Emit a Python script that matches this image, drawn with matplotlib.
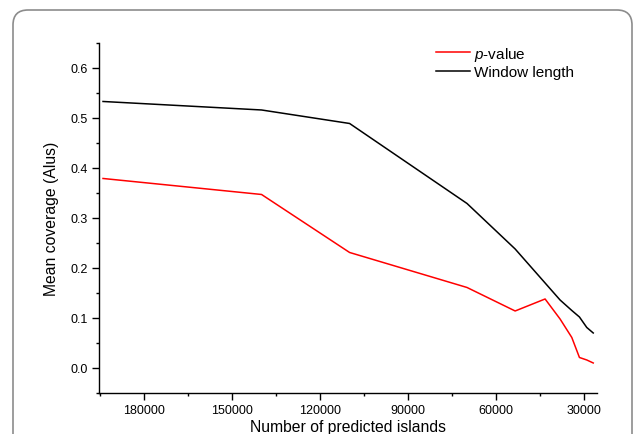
import numpy as np
import matplotlib
matplotlib.use('Agg')
import matplotlib.pyplot as plt
from matplotlib.patches import FancyBboxPatch
from matplotlib.transforms import IdentityTransform
from matplotlib.ticker import MultipleLocator

plt.rcParams['font.family'] = ['Liberation Sans', 'DejaVu Sans']
plt.rcParams['mathtext.fontset'] = 'custom'
plt.rcParams['mathtext.it'] = 'Liberation Sans:italic'
plt.rcParams['mathtext.rm'] = 'Liberation Sans'

# numero de ilhas previstas (eixo x invertido)
islands = [194000, 140000, 110000, 70000, 53600, 43400, 38300, 34300, 31700, 29200, 27000]
pvalue = [0.379, 0.347, 0.231, 0.161, 0.114, 0.138, 0.098, 0.061, 0.021, 0.016, 0.010]
window = [0.533, 0.516, 0.489, 0.329, 0.238, 0.170, 0.136, 0.115, 0.102, 0.081, 0.070]

fig = plt.figure(figsize=(6.33, 4.35), dpi=100)
ax = fig.add_axes([0.1558, 0.0943, 0.7867, 0.8046])

ax.plot(islands, pvalue, color='#ff0000', lw=1.1, label='$p$-value')
ax.plot(islands, window, color='black', lw=1.1, label='Window length')

ax.set_xlim(195500, 25850)
ax.set_ylim(-0.05, 0.65)
ax.xaxis.set_major_locator(MultipleLocator(30000))
ax.xaxis.set_minor_locator(MultipleLocator(15000))
ax.yaxis.set_major_locator(MultipleLocator(0.1))
ax.yaxis.set_minor_locator(MultipleLocator(0.05))
ax.yaxis.set_major_formatter(plt.FuncFormatter(lambda v, p: '%.1f' % v))

for s in ['top', 'right']:
    ax.spines[s].set_visible(False)
for s in ['left', 'bottom']:
    ax.spines[s].set_linewidth(1.0)
ax.tick_params(which='major', direction='out', length=4.8, width=1.0, labelsize=9, pad=3)
ax.tick_params(which='minor', direction='out', length=2.4, width=1.0)

ax.set_xlabel('Number of predicted islands', fontsize=11.3, labelpad=2)
ax.set_ylabel('Mean coverage (Alus)', fontsize=11.3, labelpad=8)

ax.legend(loc='upper left', bbox_to_anchor=(0.6775, 0.995), frameon=False,
          fontsize=11, borderpad=0, borderaxespad=0, handlelength=2.2,
          handletextpad=0.3, labelspacing=0.15)

# moldura arredondada cinza
moldura = FancyBboxPatch((13, -30), 619, 454, boxstyle='round,pad=0,rounding_size=15',
                         transform=IdentityTransform(), facecolor='none',
                         edgecolor='#8c8c8c', lw=1.2)
fig.patches.append(moldura)

fig.savefig('out.png', dpi=100)
